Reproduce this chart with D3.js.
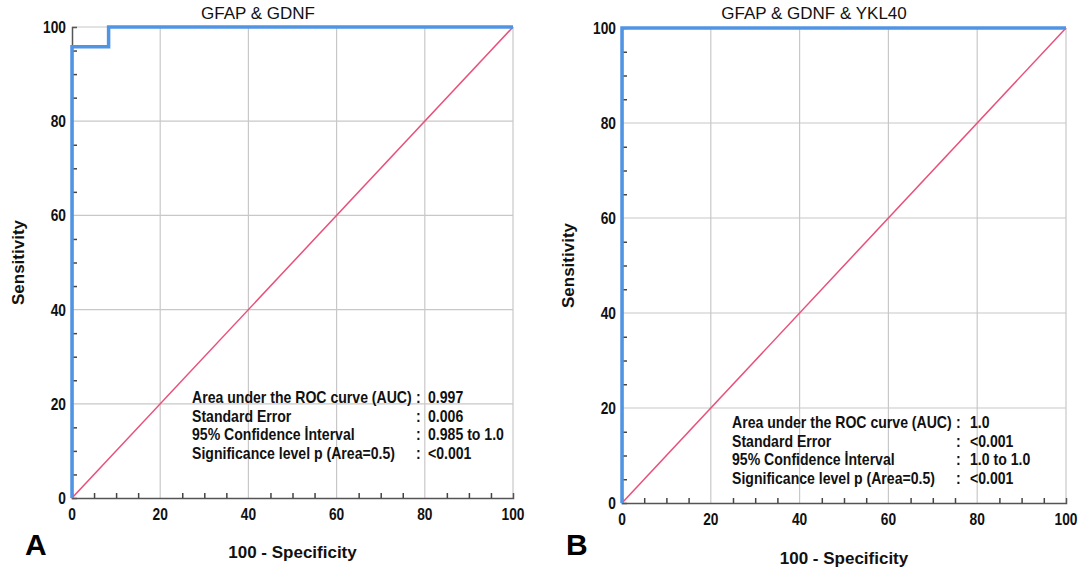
<!DOCTYPE html>
<html><head><meta charset="utf-8">
<script src="https://cdn.jsdelivr.net/npm/d3@7"></script>
<style>body{margin:0;background:#fff}svg{display:block}</style>
</head><body>
<svg id="c" width="1086" height="576"></svg>
<script>
const ticks = [0, 20, 40, 60, 80, 100];
const minorTicks = d3.range(0, 101, 5);
const titles = ["GFAP & GDNF", "GFAP & GDNF & YKL40"];
const panelLetters = ["A", "B"];
const rocA_fpr = [0, 0, 8.3, 8.3, 100];
const rocA_tpr = [0, 95.8, 95.8, 100, 100];
const rocB_fpr = [0, 0, 100];
const rocB_tpr = [0, 100, 100];
const refLine = [0, 100];
const statLabels = ["Area under the ROC curve (AUC)", "Standard Error", "95% Confidence \u0130nterval", "Significance level p (Area=0.5)"];
const statsA = ["0.997", "0.006", "0.985 to 1.0", "<0.001"];
const statsB = ["1.0", "<0.001", "1.0 to 1.0", "<0.001"];

const svg = d3.select("#c");
const sans = "Arial,'Liberation Sans',sans-serif";

function narrowText(g, x, y, txt, size, anchor, sx) {
  g.append("text")
    .attr("transform", `translate(${x},${y}) scale(${sx || 0.87},1)`)
    .attr("text-anchor", anchor || "start")
    .attr("font-family", sans).attr("font-weight", "bold").attr("font-size", size).attr("fill", "#111")
    .text(txt);
}

const panels = [
  {x0: 72, x1: 513, y0: 498, y1: 27, fpr: rocA_fpr, tpr: rocA_tpr, stats: statsA, title: titles[0], letter: panelLetters[0],
   statX: 192, statY: 397, colonX: 416, valX: 428, letterX: 25, xlabY: 558, titleX: 258},
  {x0: 622, x1: 1066, y0: 503, y1: 28, fpr: rocB_fpr, tpr: rocB_tpr, stats: statsB, title: titles[1], letter: panelLetters[1],
   statX: 732, statY: 422, colonX: 956, valX: 970, letterX: 566, xlabY: 564, titleX: 814}
];

panels.forEach(p => {
  const x = d3.scaleLinear().domain([0, 100]).range([p.x0, p.x1]);
  const y = d3.scaleLinear().domain([0, 100]).range([p.y0, p.y1]);
  const g = svg.append("g");
  // gridlines
  g.selectAll(".gx").data(ticks.slice(1)).join("line")
    .attr("x1", d => x(d)).attr("x2", d => x(d)).attr("y1", y(0)).attr("y2", y(100))
    .attr("stroke", "#c8c8c8").attr("stroke-width", 1.2);
  g.selectAll(".gy").data(ticks.slice(1)).join("line")
    .attr("y1", d => y(d)).attr("y2", d => y(d)).attr("x1", x(0)).attr("x2", x(100))
    .attr("stroke", "#c8c8c8").attr("stroke-width", 1.2);
  // axes
  const xa = g.append("g").attr("transform", `translate(0,${y(0)})`)
    .call(d3.axisBottom(x).tickValues(minorTicks.filter(d => d % 20 !== 0)).tickSize(-5).tickFormat(""));
  const ya = g.append("g").attr("transform", `translate(${x(0)},0)`)
    .call(d3.axisLeft(y).tickValues(minorTicks.filter(d => d % 20 !== 0)).tickSize(-5).tickFormat(""));
  [xa, ya].forEach(a => {
    a.select(".domain").attr("stroke", "#555").attr("stroke-width", 1.5);
    a.selectAll(".tick line").attr("stroke", "#444").attr("stroke-width", 1.5);
  });
  // tick labels
  ticks.forEach(d => {
    narrowText(g, x(d), y(0) + 22, d, 16, "middle", 0.86);
    narrowText(g, x(0) - 6, y(d) + 6, d, 16, "end", 0.86);
  });
  // reference diagonal
  g.append("line").attr("x1", x(refLine[0])).attr("y1", y(refLine[0])).attr("x2", x(refLine[1])).attr("y2", y(refLine[1]))
    .attr("stroke", "#e8507a").attr("stroke-width", 1.5);
  // ROC
  const line = d3.line().x(d => x(d[0])).y(d => y(d[1]));
  g.append("path").datum(p.fpr.map((f, i) => [f, p.tpr[i]]))
    .attr("d", line).attr("fill", "none").attr("stroke", "#5094e4").attr("stroke-width", 3.5);
  // title
  g.append("text").attr("x", p.titleX).attr("y", 19).attr("text-anchor", "middle")
    .attr("font-family", sans).attr("font-size", 17).attr("fill", "#111").text(p.title);
  // axis titles
  g.append("text").attr("transform", `translate(${p.x0 - 48},${(p.y0 + p.y1) / 2}) rotate(-90)`)
    .attr("text-anchor", "middle").attr("font-family", sans).attr("font-weight", "bold").attr("font-size", 17).attr("fill", "#111")
    .text("Sensitivity");
  g.append("text").attr("x", (p.x0 + p.x1) / 2).attr("y", p.xlabY).attr("text-anchor", "middle")
    .attr("font-family", sans).attr("font-weight", "bold").attr("font-size", 17).attr("fill", "#111")
    .text("100 - Specificity");
  // letter
  g.append("text").attr("x", p.letterX).attr("y", 555).attr("font-family", sans).attr("font-weight", "bold")
    .attr("font-size", 30).attr("fill", "#000").text(p.letter);
  // stats
  statLabels.forEach((s, i) => {
    const yy = p.statY + i * 18.5 + 6;
    narrowText(g, p.statX, yy, s, 16, "start", 0.88);
    narrowText(g, p.colonX, yy, ":", 16, "start", 0.88);
    narrowText(g, p.valX, yy, p.stats[i], 16, "start", 0.88);
  });
});
</script>
</body></html>
